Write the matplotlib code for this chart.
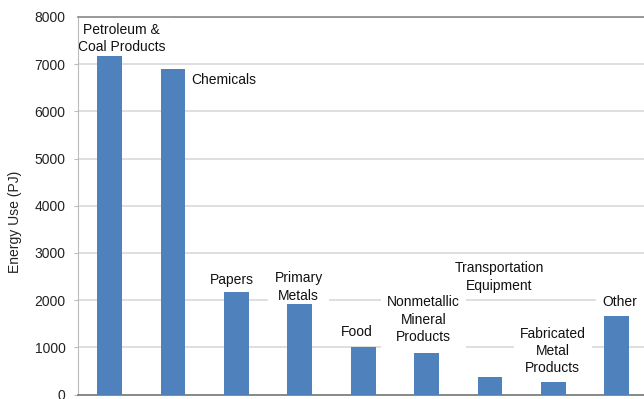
import matplotlib
matplotlib.use("Agg")
import matplotlib.pyplot as plt

categories = ["Petroleum &\nCoal Products", "Chemicals", "Papers", "Primary\nMetals",
              "Food", "Nonmetallic\nMineral\nProducts", "Transportation\nEquipment",
              "Fabricated\nMetal\nProducts", "Other"]
values = [7180, 6900, 2170, 1915, 1015, 875, 365, 260, 1670]
# label anchor positions (category offset, y value)
label_x = [0.19, 1.29, 1.92, 2.98, 3.9, 4.95, 6.15, 6.99, 8.05]
label_y = [7540, 6665, 2430, 2280, 1330, 1590, 2490, 920, 1960]
label_ha = ["center", "left", "center", "center", "center", "center", "center", "center", "center"]
yticks = [0, 1000, 2000, 3000, 4000, 5000, 6000, 7000, 8000]

plt.rcParams['font.family'] = ['Liberation Sans', 'DejaVu Sans']

fig = plt.figure(figsize=(6.44, 3.99), dpi=100)
ax = fig.add_axes([78/644, (399-394.6)/399, 1-78/644, (394.6-17)/399])

x = list(range(len(values)))
ax.bar(x, values, width=0.39, color="#4F81BD", zorder=3)
ax.set_xlim(-0.5, 8.43)
ax.set_ylim(0, 8000)
ax.set_yticks(yticks)
ax.set_yticklabels([str(t) for t in yticks], fontsize=10, color="#222222")
ax.set_xticks([])
ax.yaxis.grid(True, color="#D9D9D9", linewidth=1.2, zorder=0)
ax.set_axisbelow(True)
ax.tick_params(axis='y', length=3, color="#BBBBBB", pad=6)

ax.spines['right'].set_visible(False)
ax.spines['top'].set_color("#888888")
ax.spines['top'].set_linewidth(1.2)
ax.spines['left'].set_color("#BBBBBB")
ax.spines['bottom'].set_color("#777777")
ax.spines['bottom'].set_linewidth(1.2)

for cx, cy, ha, txt in zip(label_x, label_y, label_ha, categories):
    # white background boxes (drawn below all label texts)
    ax.text(cx, cy, txt, ha=ha, va='center', fontsize=10, color="none",
            linespacing=1.3, zorder=1.5,
            bbox=dict(boxstyle='square,pad=0.45', facecolor='white', edgecolor='none'))
    ax.text(cx, cy, txt, ha=ha, va='center', fontsize=10, color="#111111",
            linespacing=1.3, zorder=2)

fig.text(15/644, 1-222/399, "Energy Use (PJ)", rotation=90, ha='center', va='center',
         fontsize=10, color="#222222")

fig.savefig("out.png", dpi=100)
